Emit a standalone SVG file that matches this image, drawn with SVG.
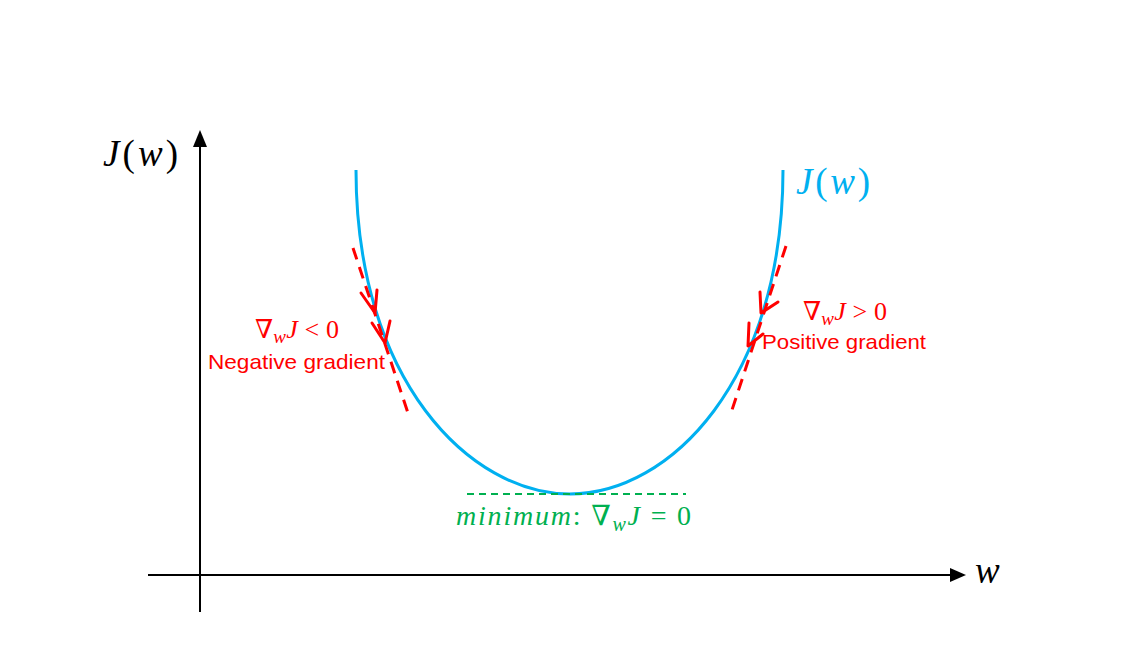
<svg xmlns="http://www.w3.org/2000/svg" width="1142" height="667" viewBox="0 0 1142 667">
<defs>
<style>
.math{font-family:"Liberation Serif","DejaVu Serif",serif;}
.it{font-style:italic;}
.sans{font-family:"Liberation Sans","Noto Sans",sans-serif;}
.axis{stroke:#000;stroke-width:2;fill:none;}
.red{fill:#FF0000;}
.rdash{stroke:#FF0000;stroke-width:3;stroke-dasharray:12 8;fill:none;}
.rhead{stroke:#FF0000;stroke-width:3;fill:none;stroke-linecap:round;stroke-linejoin:round;}
</style>
</defs>
<rect width="1142" height="667" fill="#fff"/>
<g id="axes">
<line class="axis" x1="200" y1="612" x2="200" y2="147"/>
<path d="M200,130 L193,147 L207,147 z" fill="#000"/>
<line class="axis" x1="148" y1="575" x2="950" y2="575"/>
<path d="M966,575 L950,568 L950,582 z" fill="#000"/>
<text class="math" x="103" y="166" font-size="37" textLength="75" lengthAdjust="spacing"><tspan class="it">J</tspan>(<tspan class="it">w</tspan>)</text>
<text class="math it" x="975" y="583" font-size="37">w</text>
</g>
<g id="curve">
<path d="M356,170 C356,380 470,494 570,494 C670,494 783,380 783,170" fill="none" stroke="#00B0F0" stroke-width="3"/>
<text class="math" x="796" y="194" font-size="37" fill="#00B0F0" textLength="74" lengthAdjust="spacing"><tspan class="it">J</tspan>(<tspan class="it">w</tspan>)</text>
</g>
<g id="minimum">
<line x1="467" y1="494" x2="686" y2="494" stroke="#00B050" stroke-width="2" stroke-dasharray="7 5"/>
<text class="math" x="456" y="525" font-size="28" fill="#00B050" textLength="235" lengthAdjust="spacing"><tspan class="it">minimum</tspan>: ∇<tspan class="it" font-size="20" dy="6">w</tspan><tspan class="it" dy="-6">J</tspan> = 0</text>
</g>
<g id="negative">
<line class="rdash" x1="353" y1="248" x2="408" y2="413"/>
<polyline class="rhead" points="361,293 375,313 377,290"/>
<polyline class="rhead" points="372,323 385,343 390,321"/>
<text class="math red" x="255" y="338" font-size="26" textLength="84" lengthAdjust="spacing">∇<tspan class="it" font-size="19" dy="5">w</tspan><tspan class="it" dy="-5">J</tspan> &lt; 0</text>
<text class="sans red" x="208" y="369" font-size="21" textLength="177" lengthAdjust="spacingAndGlyphs">Negative gradient</text>
</g>
<g id="positive">
<line class="rdash" x1="786" y1="246" x2="731" y2="413"/>
<polyline class="rhead" points="760,292 761,313 778,302"/>
<polyline class="rhead" points="749,323 748,346 763,334"/>
<text class="math red" x="803" y="320" font-size="26" textLength="84" lengthAdjust="spacing">∇<tspan class="it" font-size="19" dy="5">w</tspan><tspan class="it" dy="-5">J</tspan> &gt; 0</text>
<text class="sans red" x="762" y="349" font-size="21" textLength="164" lengthAdjust="spacingAndGlyphs">Positive gradient</text>
</g>
</svg>
